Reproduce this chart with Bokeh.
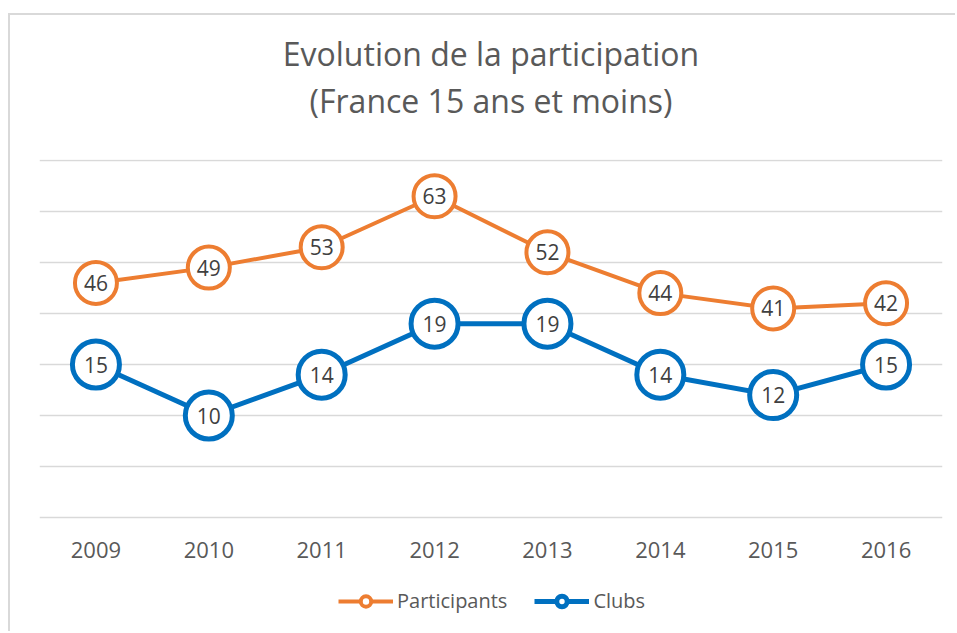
from bokeh.plotting import figure
from bokeh.models import Range1d, Title, Legend, LegendItem, SingleIntervalTicker, ColumnDataSource
from bokeh.core.properties import value
from bokeh.embed import file_html
from bokeh.resources import INLINE

years = ["2009", "2010", "2011", "2012", "2013", "2014", "2015", "2016"]
participants = [46, 49, 53, 63, 52, 44, 41, 42]
clubs = [15, 10, 14, 19, 19, 14, 12, 15]
series_names = ["Participants", "Clubs"]
title_lines = ["Evolution de la participation", "(France 15 ans et moins)"]

ORANGE = "#ED7D31"
BLUE = "#0070C0"
TEXT = "#595959"
LABEL = "#404040"
GRID = "#d9d9d9"
FONT = "Open Sans"

# primary axis (clubs) 0..35, gridlines every 5; the frame extends below 0 to hold the legend
p = figure(x_range=years, y_range=Range1d(-10.39, 35.1), width=947, height=618,
           output_backend="svg", toolbar_location=None,
           min_border_left=29, min_border_right=15, min_border_top=144, min_border_bottom=10)
p.extra_y_ranges = {"part": Range1d(-20.78, 70.2)}
p.styles = {"border-left": "2px solid #d9d9d9", "border-top": "2px solid #d9d9d9",
            "margin-left": "8px", "margin-top": "13px"}
p.outline_line_color = None

p.yaxis.visible = False
p.xgrid.grid_line_color = None
p.ygrid.ticker = SingleIntervalTicker(interval=5)
p.ygrid.bounds = (0, 35)
p.ygrid.grid_line_color = GRID
p.ygrid.grid_line_width = 1.5

ax = p.xaxis[0]
ax.axis_line_color = None
ax.major_tick_line_color = None
ax.major_tick_out = 0
ax.major_tick_in = 0
ax.major_label_standoff = -82
ax.major_label_text_font = FONT
ax.major_label_text_font_size = "22px"
ax.major_label_text_color = TEXT

src_p = ColumnDataSource(dict(x=years, y=participants, label=[str(v) for v in participants]))
src_c = ColumnDataSource(dict(x=years, y=clubs, label=[str(v) for v in clubs]))

lp = p.line("x", "y", source=src_p, y_range_name="part", line_color=ORANGE, line_width=4)
sp = p.scatter("x", "y", source=src_p, y_range_name="part", size=42, fill_color="white",
               line_color=ORANGE, line_width=4)
p.text("x", "y", text="label", source=src_p, y_range_name="part", text_align="center",
       text_baseline="middle", text_font=value(FONT), text_font_size="21px", text_color=LABEL)

lc = p.line("x", "y", source=src_c, line_color=BLUE, line_width=5)
sc = p.scatter("x", "y", source=src_c, size=47, fill_color="white", line_color=BLUE, line_width=5)
p.text("x", "y", text="label", source=src_c, text_align="center",
       text_baseline="middle", text_font=value(FONT), text_font_size="21px", text_color=LABEL)

legend = Legend(items=[LegendItem(label=series_names[0], renderers=[lp, sp]),
                       LegendItem(label=series_names[1], renderers=[lc, sc])],
                orientation="horizontal", location=(299, 9),
                glyph_width=55, glyph_height=26, label_standoff=4, spacing=27,
                label_text_font=FONT, label_text_font_size="20px", label_text_color=TEXT,
                border_line_color=None, background_fill_alpha=0, padding=0, margin=0)
p.add_layout(legend)

t2 = Title(text=title_lines[1], align="center", text_font=FONT, text_font_size="32px",
           text_color=TEXT, text_font_style="normal", standoff=76)
try:
    t1 = Title(text=title_lines[0], align="center", text_font=FONT, text_font_size="32px",
               text_color=TEXT, text_font_style="normal", standoff=-72)
except Exception:
    t1 = Title(text=title_lines[0], align="center", text_font=FONT, text_font_size="32px",
               text_color=TEXT, text_font_style="normal", standoff=0)
p.add_layout(t2, "above")
p.add_layout(t1, "above")

open("out.html", "w").write(file_html(p, INLINE))
